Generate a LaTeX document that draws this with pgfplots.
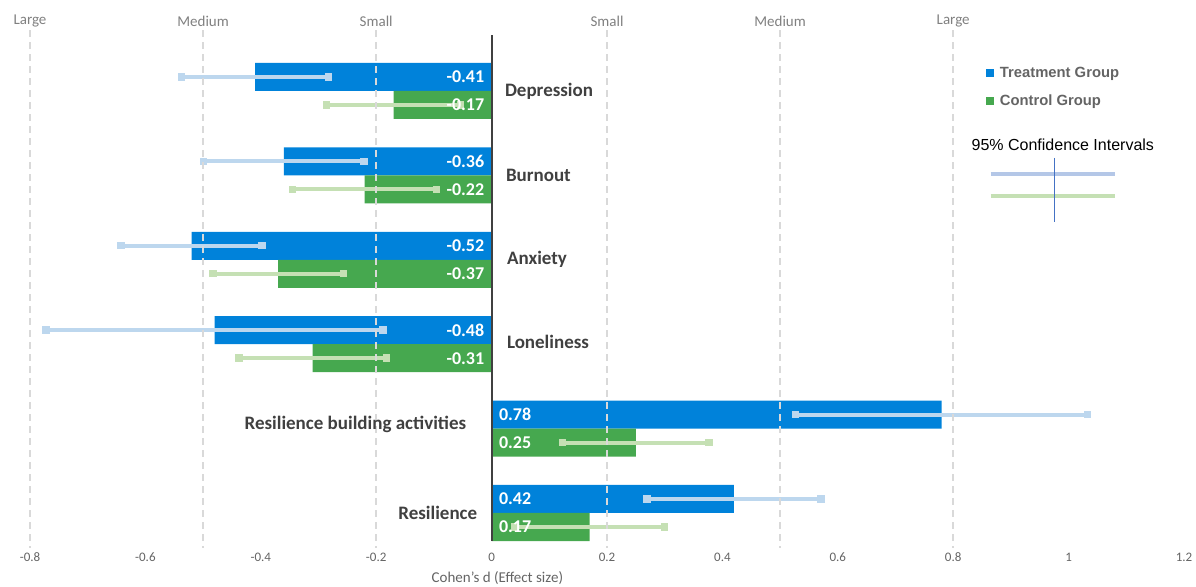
\documentclass[border=0pt]{standalone}
\usepackage{fontspec}
\setmainfont{Carlito}
\newfontfamily\arial{Liberation Sans}
\usepackage{pgfplots}
\usepackage{pgfplotstable}
\pgfplotsset{compat=1.18}

\definecolor{tblue}{RGB}{0,130,218}
\definecolor{cgreen}{RGB}{70,168,79}
\definecolor{ciblue}{RGB}{189,215,238}
\definecolor{cigreen}{RGB}{197,224,180}
\definecolor{lgblue}{RGB}{180,199,231}
\definecolor{vline}{RGB}{68,114,196}
\definecolor{dashgray}{RGB}{217,217,217}
\definecolor{labdark}{RGB}{64,64,64}
\definecolor{tickgray}{RGB}{100,100,100}
\definecolor{topgray}{RGB}{128,128,128}

% y = row position (group centre 0,-1,...,-5), v = Cohen's d, e = half width of 95% CI
\pgfplotstableread{
y      v      e
0.166  -0.41  0.127
-0.834 -0.36  0.139
-1.834 -0.52  0.122
-2.834 -0.48  0.292
-3.834  0.78  0.253
-4.834  0.42  0.151
}\treat
\pgfplotstableread{
y      v      e
-0.166 -0.17  0.116
-1.166 -0.22  0.125
-2.166 -0.37  0.113
-3.166 -0.31  0.128
-4.166  0.25  0.127
-5.166  0.17  0.130
}\ctrl

\begin{document}
\begin{tikzpicture}
\begin{axis}[
  at={(15pt,22.5pt)}, anchor=south west,
  scale only axis, width=577pt, height=253pt,
  xmin=-0.8, xmax=1.2, ymin=-5.332, ymax=0.663,
  clip=false,
  hide y axis,
  axis x line*=bottom, x axis line style={draw=none},
  xtick={-0.8,-0.6,-0.4,-0.2,0,0.2,0.4,0.6,0.8,1,1.2},
  major tick length=0pt,
  /pgf/number format/assume math mode=true,
  xticklabel style={font=\fontsize{6.5}{7}\selectfont, text=tickgray, anchor=center, yshift=-8pt},
  xlabel={Cohen’s d (Effect size)},
  xlabel style={at={(axis description cs:0.405,0)}, anchor=center, yshift=-18.5pt,
    font=\fontsize{7.5}{8}\selectfont, text=tickgray},
  legend image code/.code={\fill[#1] (0pt,-2pt) rectangle (4pt,2pt);},
  legend cell align=left,
  legend style={at={(axis cs:0.856,0.302)}, anchor=north west, draw=none, fill=none,
    font=\arial\bfseries\fontsize{7.4}{8}\selectfont, text=tickgray,
    inner sep=0pt, row sep=6.5pt, column sep=3pt,
    nodes={inner sep=0pt, text height=6pt, text depth=1.5pt}},
  lab/.style={forget plot, draw=none, mark=none, point meta=explicit,
    nodes near coords={\pgfmathprintnumber[fixed, fixed zerofill, precision=2]{\pgfplotspointmeta}},
    every node near coord/.append style={inner sep=0pt, text=white, font=\bfseries\fontsize{9}{10}\selectfont}},
  neg/.style={skip coords between index={4}{6},
    every node near coord/.append style={anchor=east, xshift=-3.5pt}},
  pos/.style={skip coords between index={0}{4},
    every node near coord/.append style={anchor=west, xshift=3.5pt}},
]
\addplot[xbar, bar width=0.332, bar shift=0pt, fill=tblue, draw=none,
  error bars/.cd, x dir=both, x explicit,
  error bar style={line width=2pt, draw=ciblue},
  error mark=square*, error mark options={mark size=1.6pt, fill=ciblue, draw=ciblue, line width=0pt}]
  table[x=v, y=y, x error=e] {\treat};
\addlegendentry{Treatment Group}
\addplot[xbar, bar width=0.332, bar shift=0pt, fill=cgreen, draw=none,
  error bars/.cd, x dir=both, x explicit,
  error bar style={line width=2pt, draw=cigreen},
  error mark=square*, error mark options={mark size=1.6pt, fill=cigreen, draw=cigreen, line width=0pt}]
  table[x=v, y=y, x error=e] {\ctrl};
\addlegendentry{Control Group}

% effect size reference lines
\pgfplotsinvokeforeach{-0.8,-0.5,-0.2,0.2,0.5,0.8}{
  \draw[dashgray, line width=0.75pt, dash pattern=on 3.5pt off 2.5pt] (axis cs:#1,0.72) -- (axis cs:#1,-5.42);
}
\draw[labdark, line width=1pt] (axis cs:0,0.663) -- (axis cs:0,-5.332);

% value labels
\addplot[lab, neg] table[x expr=0, y=y, meta=v] {\treat};
\addplot[lab, neg] table[x expr=0, y=y, meta=v] {\ctrl};
\addplot[lab, pos] table[x expr=0, y=y, meta=v] {\treat};
\addplot[lab, pos] table[x expr=0, y=y, meta=v] {\ctrl};

% category labels
\begin{scope}[every node/.style={font=\bfseries\fontsize{9.5}{10}\selectfont, text=labdark, inner sep=0pt}]
\node[anchor=west] at ([xshift=6.5pt]axis cs:0,0) {Depression};
\node[anchor=west] at ([xshift=7pt]axis cs:0,-1) {Burnout};
\node[anchor=west] at ([xshift=7.5pt]axis cs:0,-2) {Anxiety};
\node[anchor=west] at ([xshift=7.5pt]axis cs:0,-2.97) {Loneliness};
\node[anchor=east] at ([xshift=-12.5pt]axis cs:0,-3.95) {Resilience building activities};
\node[anchor=east] at ([xshift=-7pt]axis cs:0,-5) {Resilience};
\end{scope}

% effect size names along the top
\begin{scope}[every node/.style={font=\fontsize{7.5}{8}\selectfont, text=topgray, anchor=center, yshift=7pt}]
\node at (axis cs:-0.8,0.663) {Large};
\node at (axis cs:-0.5,0.663) {Medium};
\node at (axis cs:-0.2,0.663) {Small};
\node at (axis cs:0.2,0.663) {Small};
\node at (axis cs:0.5,0.663) {Medium};
\node at (axis cs:0.8,0.663) {Large};
\end{scope}

% confidence interval key
\node[font=\arial\fontsize{8}{9}\selectfont, text=black] at (axis cs:0.990,-0.640) {95\% Confidence Intervals};
\draw[lgblue, line width=2pt] (axis cs:0.865,-0.983) -- (axis cs:1.081,-0.983);
\draw[cigreen, line width=2pt] (axis cs:0.865,-1.244) -- (axis cs:1.081,-1.244);
\draw[vline, line width=0.6pt] (axis cs:0.976,-0.794) -- (axis cs:0.976,-1.552);
\end{axis}
\pgfresetboundingbox
\path[use as bounding box] (0,0) rectangle (598pt,293pt);
\end{tikzpicture}
\end{document}
